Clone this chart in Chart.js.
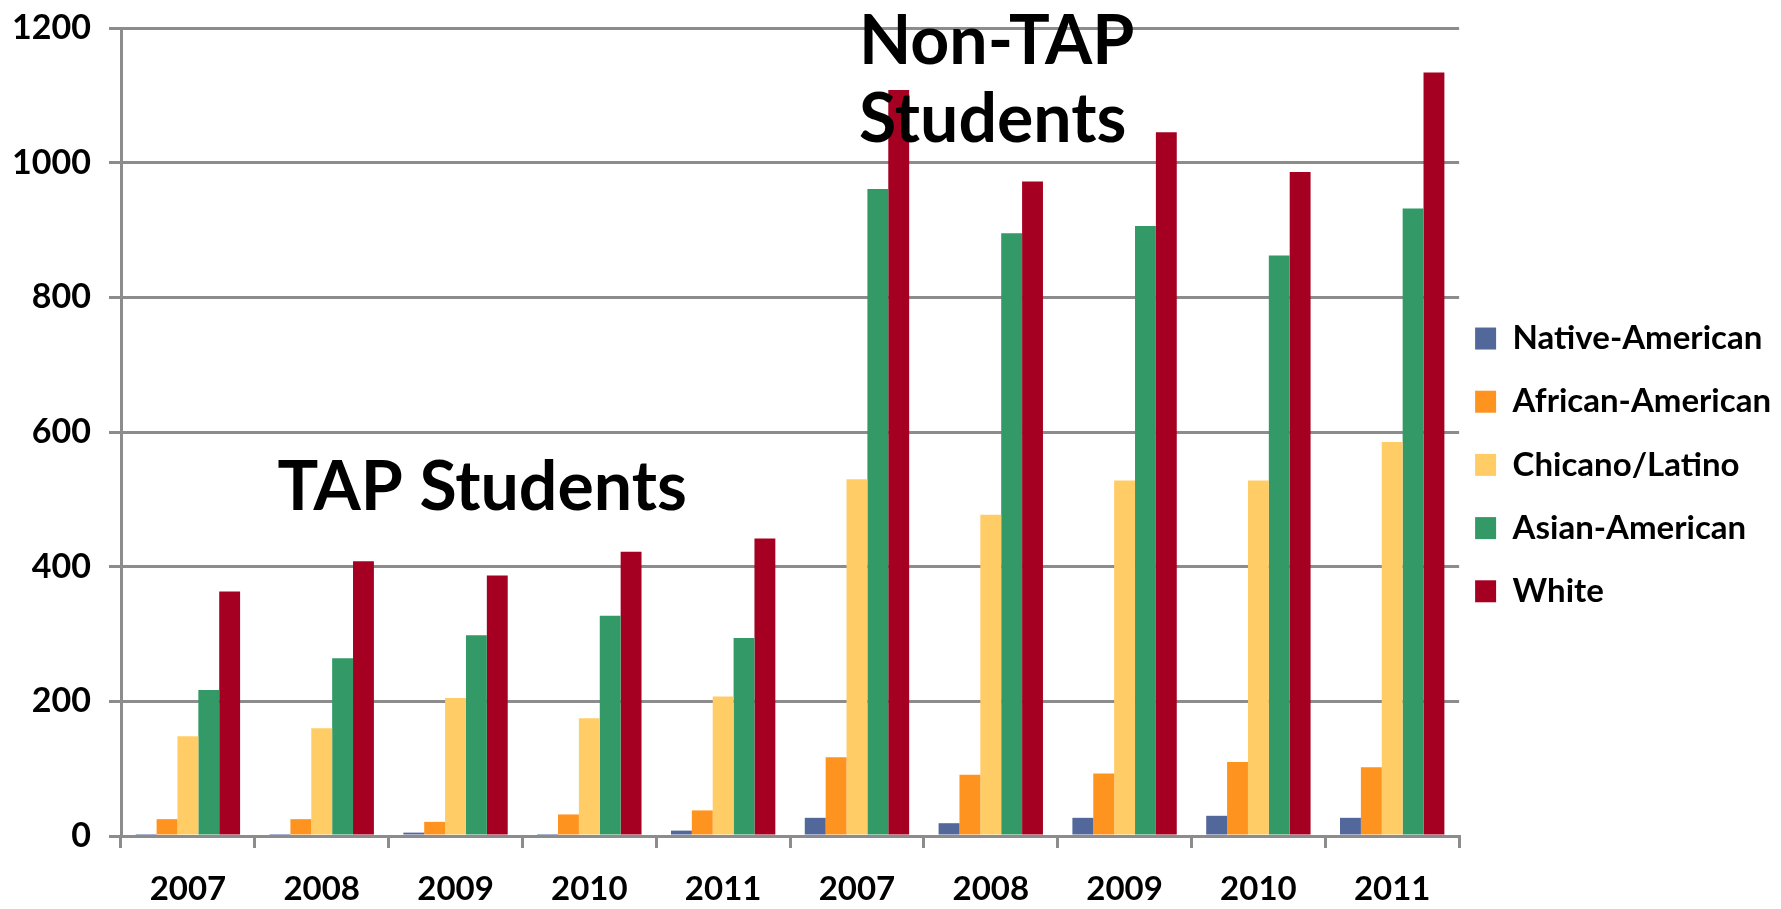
<!DOCTYPE html>
<html>
<head>
<meta charset="utf-8">
<script src="https://cdn.jsdelivr.net/npm/chart.js@4"></script>
<style>
  html, body { margin: 0; padding: 0; background: #fff; }
  #wrap { width: 1781px; height: 909px; }
</style>
</head>
<body>
<div id="wrap"><canvas id="chart"></canvas></div>
<script>
/* =========================
   Data
========================= */
const years = ["2007", "2008", "2009", "2010", "2011", "2007", "2008", "2009", "2010", "2011"];
const seriesNames = ["Native-American", "African-American", "Chicano/Latino", "Asian-American", "White"];

// first five: TAP students, last five: Non-TAP students
const nativeAmerican  = [3, 3, 5, 3, 8, 27, 19, 27, 30, 27];
const africanAmerican = [25, 25, 21, 32, 38, 117, 91, 93, 110, 102];
const chicanoLatino   = [148, 160, 205, 175, 207, 530, 477, 528, 528, 585];
const asianAmerican   = [217, 264, 298, 327, 294, 961, 895, 906, 862, 932];
const white           = [363, 408, 387, 422, 442, 1108, 972, 1045, 986, 1134];

const yTicks = [0, 200, 400, 600, 800, 1000, 1200];

const colors = ["#52679A", "#FF9320", "#FFCC66", "#339966", "#A50021"];
const GRID = "#8c8c8c";
const FONT = "Lato, 'Open Sans', sans-serif";

/* =========================
   Group titles (drawn on top of bars)
========================= */
const groupTitles = {
  id: "groupTitles",
  afterDatasetsDraw(chart) {
    const { ctx, scales: { x, y } } = chart;
    ctx.save();
    ctx.fillStyle = "#000";
    ctx.font = "bold 68px " + FONT;
    ctx.textAlign = "left";
    ctx.textBaseline = "alphabetic";
    ctx.fillText("TAP Students", x.getPixelForDecimal(0.117), y.getPixelForValue(484));
    ctx.fillText("Non-TAP", x.getPixelForDecimal(0.5515), y.getPixelForValue(1146));
    ctx.fillText("Students", x.getPixelForDecimal(0.5515), y.getPixelForValue(1031));
    ctx.restore();
  }
};

/* =========================
   Chart
========================= */
const allSeries = [nativeAmerican, africanAmerican, chicanoLatino, asianAmerican, white];

new Chart(document.getElementById("chart"), {
  type: "bar",
  data: {
    labels: years,
    datasets: allSeries.map((vals, i) => ({
      label: seriesNames[i],
      data: vals,
      backgroundColor: colors[i],
      borderWidth: 0,
      categoryPercentage: 0.78,
      barPercentage: 1.0
    }))
  },
  options: {
    responsive: true,
    maintainAspectRatio: false,
    animation: false,
    layout: { padding: { top: 0, right: 0, left: 0, bottom: 0 } },
    plugins: {
      tooltip: { enabled: false },
      legend: {
        position: "right",
        maxWidth: 324,
        title: { display: true, text: " ", font: { size: 10 }, padding: { top: 23, bottom: 0 } },
        labels: {
          color: "#000",
          font: { family: FONT, size: 33, weight: "bold", lineHeight: 1.43 },
          boxWidth: 21,
          boxHeight: 22,
          padding: 16,
          generateLabels: chart =>
            Chart.defaults.plugins.legend.labels.generateLabels(chart).map(item => ({ ...item, text: [item.text] }))
        }
      }
    },
    scales: {
      x: {
        afterFit: axis => { axis.height = 73; },
        grid: {
          display: true,
          drawOnChartArea: false,
          drawTicks: true,
          tickLength: 12,
          color: GRID,
          lineWidth: 3,
          offset: true
        },
        border: { color: GRID, width: 3 },
        ticks: {
          color: "#000",
          font: { family: FONT, size: 33, weight: "bold" },
          padding: 22,
          maxRotation: 0
        }
      },
      y: {
        min: 0,
        max: 1200,
        afterFit: axis => { axis.width = 121; axis.paddingTop = 28; },
        afterBuildTicks: axis => { axis.ticks = yTicks.map(v => ({ value: v })); },
        grid: { color: GRID, lineWidth: 3, tickLength: 12 },
        border: { color: GRID, width: 3 },
        ticks: {
          color: "#000",
          font: { family: FONT, size: 34, weight: "bold" },
          padding: 18,
          callback: v => String(v)
        }
      }
    }
  },
  plugins: [groupTitles]
});
</script>
</body>
</html>
